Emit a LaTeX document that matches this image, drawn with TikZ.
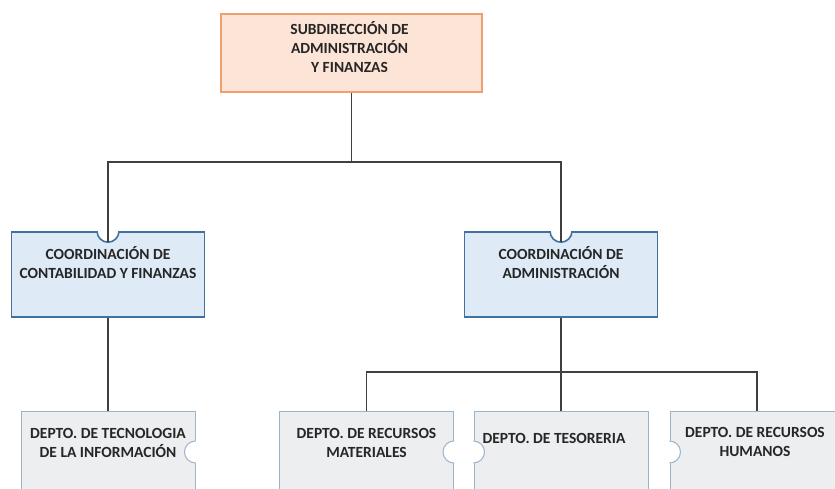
\documentclass[tikz,border=0pt]{standalone}
\usepackage{xcolor}
\usepackage{fontspec}
\setmainfont{Carlito}
\usepackage{tikz}
\usetikzlibrary{positioning}

\definecolor{headfill}{HTML}{FCE4D6}
\definecolor{headline}{HTML}{EFA06E}
\definecolor{coordfill}{HTML}{DEEBF7}
\definecolor{coordline}{HTML}{41719C}
\definecolor{deptfill}{HTML}{EDEEF0}
\definecolor{deptline}{HTML}{9CB3C9}
\definecolor{connline}{HTML}{404040}
\definecolor{txt}{HTML}{262626}

\tikzset{
  headbox/.style={draw=headline, line width=1.8pt, fill=headfill, minimum width=261pt, minimum height=78pt, inner sep=0pt},
  coordbox/.style={draw=coordline, line width=1.6pt, fill=coordfill, minimum width=193pt, minimum height=85pt, inner sep=0pt},
  deptbox/.style={draw=deptline, line width=1pt, fill=deptfill, minimum width=174pt, minimum height=88pt, inner sep=0pt},
  lbl/.style={text=txt, font=\bfseries\fontsize{15.5}{19}\selectfont, align=center, inner sep=0pt},
  conn/.style={draw=connline, line width=1.2pt},
}

\begin{document}
\begin{tikzpicture}[x=1pt, y=1pt]
             \useasboundingbox (0,0) rectangle (835,489);
             \clip (0,0) rectangle (835,489);

             % boxes
             \node[headbox] (head) at (351.5, 436) {};
             \node[coordbox] (cont) at (108, 214.5) {};
             \node[coordbox] (adm) at (561, 214.5) {};
             \node[deptbox] (ti) at (108, 33) {};
             \node[deptbox] (mat) at (366.5, 33) {};
             \node[deptbox] (tes) at (561, 33) {};
             \node[deptbox] (hum) at (757, 33) {};

             % notches
             \fill[white] ([shift={(-11,3)}]cont.north) -- ([xshift=-11]cont.north) arc[start angle=180, end angle=360, radius=11] -- ([shift={(11,3)}]cont.north) -- cycle;
             \draw[coordline, line width=1.6pt] ([xshift=-11]cont.north) arc[start angle=180, end angle=360, radius=11];
             \fill[white] ([shift={(-11,3)}]adm.north) -- ([xshift=-11]adm.north) arc[start angle=180, end angle=360, radius=11] -- ([shift={(11,3)}]adm.north) -- cycle;
             \draw[coordline, line width=1.6pt] ([xshift=-11]adm.north) arc[start angle=180, end angle=360, radius=11];

             \fill[white] ([shift={(2,-7)}]ti.east) -- ([yshift=-7]ti.east) arc[start angle=270, end angle=90, radius=11] -- ([shift={(2,15)}]ti.east) -- cycle;
             \draw[deptline, line width=1pt] ([yshift=-7]ti.east) arc[start angle=270, end angle=90, radius=11];
             \fill[white] ([shift={(2,-7)}]mat.east) -- ([yshift=-7]mat.east) arc[start angle=270, end angle=90, radius=11] -- ([shift={(2,15)}]mat.east) -- cycle;
             \draw[deptline, line width=1pt] ([yshift=-7]mat.east) arc[start angle=270, end angle=90, radius=11];
             \fill[white] ([shift={(-2,-7)}]tes.west) -- ([yshift=-7]tes.west) arc[start angle=-90, end angle=90, radius=11] -- ([shift={(-2,15)}]tes.west) -- cycle;
             \draw[deptline, line width=1pt] ([yshift=-7]tes.west) arc[start angle=-90, end angle=90, radius=11];
             \fill[white] ([shift={(-2,-7)}]hum.west) -- ([yshift=-7]hum.west) arc[start angle=-90, end angle=90, radius=11] -- ([shift={(-2,15)}]hum.west) -- cycle;
             \draw[deptline, line width=1pt] ([yshift=-7]hum.west) arc[start angle=-90, end angle=90, radius=11];

             % texts
             \node[lbl] (headlbl) at ([shift={(-2,6)}]head.center) {SUBDIRECCIÓN DE\\ADMINISTRACIÓN\\Y FINANZAS};
             \node[lbl] (contlbl) at ([yshift=12]cont.center) {COORDINACIÓN DE\\CONTABILIDAD Y FINANZAS};
             \node[lbl] (admlbl) at ([yshift=12]adm.center) {COORDINACIÓN DE\\ADMINISTRACIÓN};
             \node[lbl] (tilbl) at ([yshift=13]ti.center) {DEPTO. DE TECNOLOGIA\\DE LA INFORMACIÓN};
             \node[lbl] (matlbl) at ([yshift=13]mat.center) {DEPTO. DE RECURSOS\\MATERIALES};
             \node[lbl] (teslbl) at ([shift={(-7,18)}]tes.center) {DEPTO. DE TESORERIA};
             \node[lbl] (humlbl) at ([shift={(-2,14)}]hum.center) {DEPTO. DE RECURSOS\\HUMANOS};

             % connectors
             \coordinate (hbus) at (351.5, 327);
             \coordinate (lbus) at (561, 117);
             \draw[conn] (head.south) -- (hbus);
             \draw[conn] ([yshift=-11]cont.north) |- (hbus) -| ([yshift=-11]adm.north);
             \draw[conn] (cont.south) -- (ti.north);
             \draw[conn] (adm.south) -- (lbus);
             \draw[conn] (mat.north) |- (lbus) -| (hum.north);
             \draw[conn] (lbus) -- (tes.north);
\end{tikzpicture}
\end{document}
